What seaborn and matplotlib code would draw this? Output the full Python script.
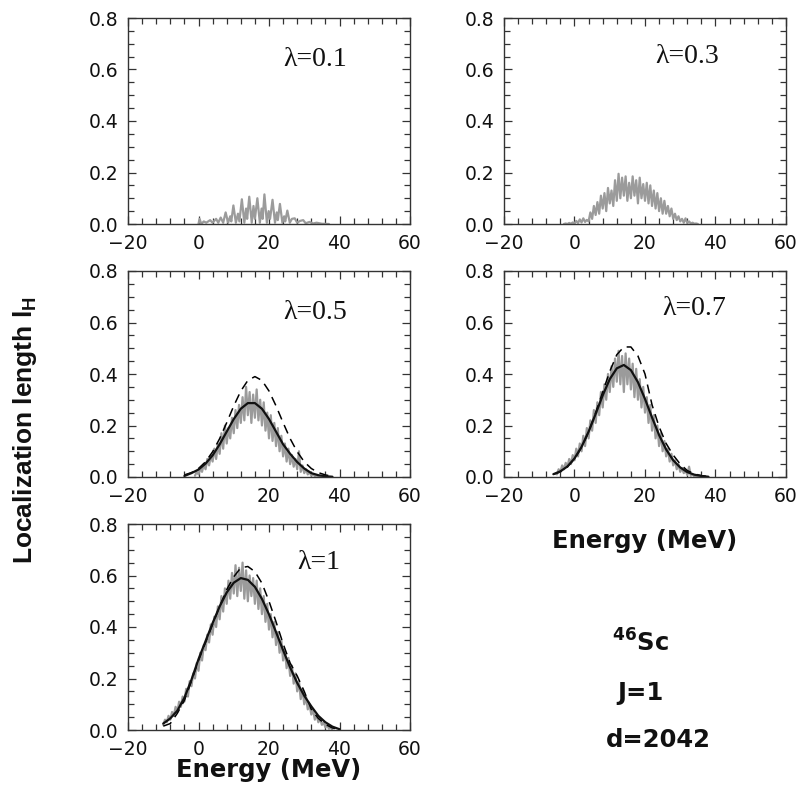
import numpy as np
import pandas as pd
import matplotlib
matplotlib.use("Agg")
import matplotlib.pyplot as plt
import seaborn as sns
from matplotlib.ticker import MultipleLocator

sns.set_style("ticks")

# ---- data ----
lambdas = ["0.1", "0.3", "0.5", "0.7", "1"]

# lambda = 0.1 : comb of spikes
e_01 = [0.0, 0.3, 0.8, 1.5, 2.2, 3.3, 4.0, 5.0, 5.6, 6.3, 7.0, 7.7, 8.4, 9.0, 9.3,
        9.9, 10.6, 11.2, 11.6, 12.3, 13.0, 13.5, 13.8, 14.4, 15.1, 15.6, 16.0, 16.7,
        17.4, 17.9, 18.2, 18.7, 19.4, 19.9, 20.3, 21.0, 21.7, 22.2, 22.5, 23.1, 23.8,
        24.3, 24.6, 25.2, 25.9, 26.5, 27.3, 28.0, 28.8, 29.7, 30.4, 31.5, 32.5, 33.5,
        35.0, 37.0]
l_01 = [0.0, 0.02, 0.0, 0.01, 0.005, 0.015, 0.005, 0.02, 0.005, 0.025, 0.005, 0.045,
        0.005, 0.03, 0.01, 0.072, 0.005, 0.04, 0.01, 0.096, 0.005, 0.06, 0.02, 0.106,
        0.005, 0.07, 0.02, 0.10, 0.005, 0.06, 0.02, 0.115, 0.005, 0.05, 0.02, 0.094,
        0.005, 0.045, 0.015, 0.078, 0.005, 0.03, 0.01, 0.052, 0.005, 0.02, 0.022, 0.005,
        0.012, 0.015, 0.003, 0.008, 0.002, 0.005, 0.001, 0.0]

# lambda = 0.3 : energies -3 .. 35 in 0.5 MeV steps
l_03 = [0.0, 0.002, 0.0, 0.004, 0.001, 0.006, 0.002, 0.012, 0.004, 0.018,
        0.006, 0.022, 0.008, 0.016, 0.01, 0.045, 0.02, 0.07, 0.035, 0.085,
        0.04, 0.11, 0.06, 0.12, 0.05, 0.14, 0.08, 0.13, 0.07, 0.17,
        0.09, 0.195, 0.10, 0.18, 0.11, 0.185, 0.09, 0.16, 0.10, 0.185,
        0.11, 0.17, 0.08, 0.18, 0.10, 0.155, 0.09, 0.16, 0.08, 0.15,
        0.07, 0.13, 0.06, 0.12, 0.05, 0.10, 0.04, 0.09, 0.04, 0.07,
        0.03, 0.06, 0.02, 0.04, 0.015, 0.03, 0.01, 0.02, 0.005, 0.022,
        0.004, 0.01, 0.002, 0.005, 0.001, 0.002, 0.0]

# lambda = 0.5 : energies -1 .. 35
l_05 = [0.005, 0.02, 0.01, 0.035, 0.02, 0.05, 0.03, 0.07, 0.045, 0.085,
        0.06, 0.11, 0.07, 0.13, 0.09, 0.17, 0.11, 0.20, 0.13, 0.19,
        0.15, 0.23, 0.17, 0.26, 0.19, 0.28, 0.21, 0.31, 0.22, 0.35,
        0.24, 0.33, 0.21, 0.32, 0.23, 0.34, 0.22, 0.30, 0.20, 0.29,
        0.18, 0.25, 0.15, 0.24, 0.14, 0.21, 0.12, 0.19, 0.10, 0.16,
        0.08, 0.13, 0.06, 0.11, 0.05, 0.085, 0.04, 0.07, 0.03, 0.10,
        0.02, 0.045, 0.015, 0.03, 0.01, 0.02, 0.005, 0.012, 0.003, 0.006,
        0.001, 0.002, 0.0]

# lambda = 0.7 : energies -5 .. 36
l_07 = [0.01, 0.03, 0.02, 0.045, 0.03, 0.055, 0.04, 0.07, 0.05, 0.085,
        0.065, 0.11, 0.08, 0.13, 0.10, 0.16, 0.12, 0.19, 0.15, 0.22,
        0.18, 0.26, 0.21, 0.29, 0.24, 0.33, 0.27, 0.36, 0.30, 0.40,
        0.33, 0.43, 0.35, 0.46, 0.37, 0.49, 0.36, 0.47, 0.33, 0.48,
        0.36, 0.46, 0.34, 0.44, 0.31, 0.42, 0.30, 0.38, 0.27, 0.35,
        0.25, 0.31, 0.21, 0.28, 0.18, 0.24, 0.15, 0.20, 0.12, 0.17,
        0.10, 0.14, 0.08, 0.11, 0.06, 0.09, 0.045, 0.065, 0.03, 0.05,
        0.02, 0.035, 0.015, 0.025, 0.008, 0.04, 0.005, 0.01, 0.002, 0.005,
        0.001, 0.002, 0.0]

# lambda = 1 : energies -10 .. 38
l_10 = [0.02, 0.04, 0.03, 0.055, 0.04, 0.07, 0.055, 0.09, 0.07, 0.11,
        0.09, 0.13, 0.11, 0.16, 0.13, 0.19, 0.17, 0.22, 0.20, 0.26,
        0.23, 0.30, 0.27, 0.33, 0.31, 0.37, 0.34, 0.41, 0.37, 0.44,
        0.40, 0.48, 0.43, 0.52, 0.46, 0.55, 0.49, 0.58, 0.51, 0.61,
        0.53, 0.64, 0.52, 0.63, 0.54, 0.65, 0.51, 0.62, 0.50, 0.60,
        0.52, 0.59, 0.49, 0.58, 0.47, 0.55, 0.45, 0.52, 0.42, 0.49,
        0.39, 0.45, 0.36, 0.42, 0.33, 0.38, 0.30, 0.35, 0.27, 0.31,
        0.24, 0.28, 0.21, 0.25, 0.18, 0.22, 0.15, 0.19, 0.12, 0.16,
        0.10, 0.13, 0.08, 0.10, 0.06, 0.08, 0.04, 0.06, 0.03, 0.045,
        0.02, 0.03, 0.01, 0.02, 0.005, 0.01, 0.0]

gray_e = [e_01,
          np.arange(-3, 35.01, 0.5),
          np.arange(-1, 35.01, 0.5),
          np.arange(-5, 36.01, 0.5),
          np.arange(-10, 38.01, 0.5)]
gray_l = [l_01, l_03, l_05, l_07, l_10]

# smooth curves (solid = fit, dashed = theory)
e_fit_05 = [-4, -2, 0, 2, 4, 6, 8, 10, 12, 14, 16, 18, 20, 22, 24, 26, 28, 30, 32, 34, 36, 38]
fit_05 = [0.004, 0.015, 0.029, 0.052, 0.084, 0.127, 0.176, 0.225, 0.265, 0.287, 0.287,
          0.265, 0.225, 0.176, 0.127, 0.09, 0.058, 0.033, 0.015, 0.007, 0.003, 0.001]
th_05 = [0.008, 0.017, 0.033, 0.059, 0.098, 0.149, 0.211, 0.276, 0.334, 0.375, 0.39,
         0.375, 0.334, 0.276, 0.211, 0.149, 0.098, 0.059, 0.033, 0.017, 0.008, 0.003]

e_fit_07 = [-6, -4, -2, 0, 2, 4, 6, 8, 10, 12, 14, 16, 18, 20, 22, 24, 26, 28, 30, 32, 34, 36, 38]
fit_07 = [0.011, 0.022, 0.041, 0.072, 0.117, 0.176, 0.245, 0.317, 0.380, 0.422, 0.435,
          0.415, 0.368, 0.303, 0.231, 0.163, 0.107, 0.065, 0.037, 0.019, 0.009, 0.004, 0.001]
th_07 = [0.01, 0.02, 0.04, 0.07, 0.115, 0.175, 0.25, 0.33, 0.41, 0.475, 0.505,
         0.505, 0.47, 0.40, 0.28, 0.195, 0.13, 0.085, 0.05, 0.025, 0.012, 0.005, 0.002]

e_fit_10 = [-10, -8, -6, -4, -2, 0, 2, 4, 6, 8, 10, 12, 14, 16, 18, 20, 22, 24, 26,
            28, 30, 32, 34, 36, 38, 40]
fit_10 = [0.025, 0.045, 0.075, 0.125, 0.195, 0.275, 0.345, 0.415, 0.480, 0.534, 0.572,
          0.59, 0.583, 0.556, 0.509, 0.449, 0.380, 0.310, 0.243, 0.183, 0.133, 0.092,
          0.055, 0.03, 0.013, 0.003]
th_10 = [0.015, 0.025, 0.065, 0.115, 0.19, 0.27, 0.34, 0.41, 0.48, 0.545, 0.595,
         0.63, 0.635, 0.615, 0.57, 0.50, 0.42, 0.335, 0.26, 0.21, 0.15, 0.08,
         0.045, 0.022, 0.008, 0.002]

fit_e = [None, None, e_fit_05, e_fit_07, e_fit_10]
fit_l = [None, None, fit_05, fit_07, fit_10]
th_l = [None, None, th_05, th_07, th_10]

lam_pos = [(33, 0.64), (32, 0.65), (33, 0.64), (34, 0.655), (34, 0.65)]

# ---- figure ----
W, H = 803, 799
fig = plt.figure(figsize=(W / 100, H / 100), dpi=100)

lefts = [128, 504]
tops = [18, 271, 524]
slots = [(0, 0), (0, 1), (1, 0), (1, 1), (2, 0)]
aw, ah = 282, 206
xlab_y = {3: -0.31, 4: -0.195}

gray = "#9b9b9b"
for i, (r, c) in enumerate(slots):
    ax = fig.add_axes([lefts[c] / W, 1 - (tops[r] + ah) / H, aw / W, ah / H])
    sns.lineplot(x=gray_e[i], y=gray_l[i], ax=ax, color=gray, lw=1.6,
                 estimator=None, sort=False)
    if fit_e[i] is not None:
        sns.lineplot(x=fit_e[i], y=th_l[i], ax=ax, color="black", lw=1.1,
                     linestyle=(0, (6, 4)), estimator=None, sort=False)
        sns.lineplot(x=fit_e[i], y=fit_l[i], ax=ax, color="#111111", lw=1.6,
                     estimator=None, sort=False)
    ax.set_xlim(-20, 60)
    ax.set_ylim(0, 0.8)
    ax.xaxis.set_major_locator(MultipleLocator(20))
    ax.xaxis.set_minor_locator(MultipleLocator(4))
    ax.yaxis.set_major_locator(MultipleLocator(0.2))
    ax.yaxis.set_minor_locator(MultipleLocator(0.05))
    ax.yaxis.set_major_formatter(matplotlib.ticker.FormatStrFormatter("%.1f"))
    ax.tick_params(which="both", direction="in", top=True, right=True,
                   color="#333333", width=0.9, labelsize=13.5, labelcolor="#111111")
    ax.tick_params(which="major", length=6, pad=7)
    ax.tick_params(which="minor", length=4)
    for s in ax.spines.values():
        s.set_color("#333333")
        s.set_linewidth(1.0)
    ax.set_xlabel("")
    ax.set_ylabel("")
    ax.text(lam_pos[i][0], lam_pos[i][1], "\u03bb=" + lambdas[i], ha="center", va="center",
            fontsize=20, family="Liberation Serif", color="#111111")
    if i in xlab_y:
        ax.set_xlabel("Energy (MeV)", fontsize=17.5, fontweight="bold", color="#111111",
                      va="center")
        ax.xaxis.set_label_coords(0.5, xlab_y[i])

fig.text(25 / W, 1 - 430 / H, r"Localization length l$_\mathregular{H}$", rotation=90,
         ha="center", va="center", fontsize=19, fontweight="bold",
         family=["Liberation Sans Narrow", "Liberation Sans", "DejaVu Sans"], color="#111111")

fig.text(640 / W, 1 - 643 / H, r"$^{\mathbf{46}}$Sc", ha="center", va="center",
         fontsize=17.5, fontweight="bold", color="#111111")
fig.text(640 / W, 1 - 693 / H, "J=1", ha="center", va="center",
         fontsize=17.5, fontweight="bold", color="#111111")
fig.text(658 / W, 1 - 740 / H, "d=2042", ha="center", va="center",
         fontsize=17.5, fontweight="bold", color="#111111")

fig.savefig("out.png", dpi=100)
